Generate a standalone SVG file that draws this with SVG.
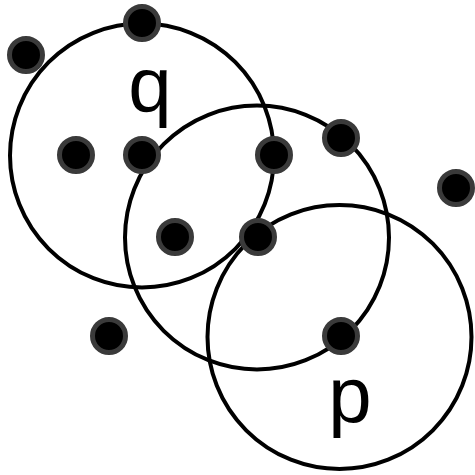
<svg xmlns="http://www.w3.org/2000/svg" width="475" height="475" viewBox="0 0 475 475">
<style>
.ring{fill:none;stroke:#000;stroke-width:4}
.dot{fill:#000;stroke:#3a3a3a;stroke-width:5}
.lbl{font-family:"Liberation Sans",Arial,sans-serif;font-size:78px;fill:#000;text-anchor:middle}
</style>
<rect width="475" height="475" fill="#fff"/>
<g id="circles">
<circle id="circle-q" class="ring" cx="142" cy="155.5" r="132"/>
<circle id="circle-mid" class="ring" cx="257" cy="237.5" r="132"/>
<circle id="circle-p" class="ring" cx="339.5" cy="337" r="132"/>
</g>
<g id="points">
<circle class="dot" cx="142" cy="23" r="16.5"/>
<circle class="dot" cx="26" cy="55" r="16.5"/>
<circle class="dot" cx="76" cy="155" r="16.5"/>
<circle class="dot" cx="142" cy="155" r="16.5"/>
<circle class="dot" cx="274" cy="155" r="16.5"/>
<circle class="dot" cx="341" cy="138" r="16.5"/>
<circle class="dot" cx="456" cy="188" r="16.5"/>
<circle class="dot" cx="175" cy="237" r="16.5"/>
<circle class="dot" cx="258" cy="237" r="16.5"/>
<circle class="dot" cx="109" cy="336" r="16.5"/>
<circle class="dot" cx="341" cy="336" r="16.5"/>
</g>
<g id="labels">
<text class="lbl" x="150" y="112">q</text>
<text class="lbl" x="350" y="422">p</text>
</g>
</svg>
